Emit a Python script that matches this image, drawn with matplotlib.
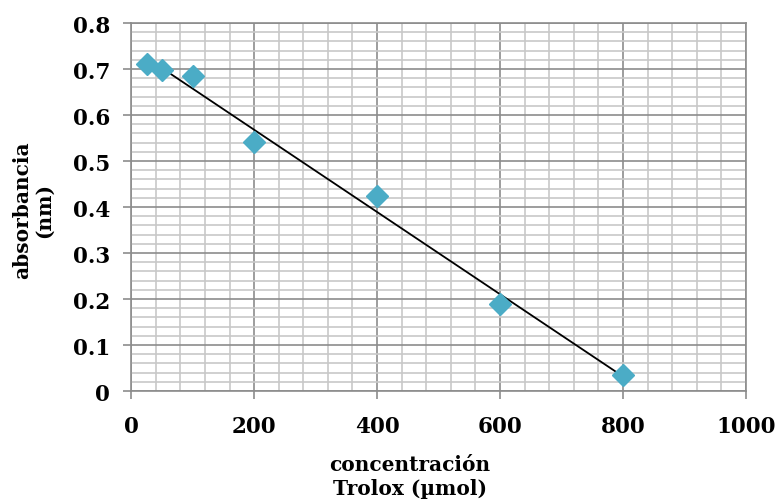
import matplotlib
matplotlib.use("Agg")
import matplotlib.pyplot as plt
import numpy as np
from matplotlib.ticker import MultipleLocator

# data
concentracion = [25, 50, 100, 200, 400, 600, 800]
absorbancia = [0.712, 0.698, 0.686, 0.541, 0.423, 0.189, 0.035]
x_ticks = [0, 200, 400, 600, 800, 1000]
y_ticks = [0, 0.1, 0.2, 0.3, 0.4, 0.5, 0.6, 0.7, 0.8]
y_tick_labels = ["0", "0.1", "0.2", "0.3", "0.4", "0.5", "0.6", "0.7", "0.8"]

plt.rcParams.update({
    "font.family": "DejaVu Serif",
    "font.weight": "bold",
})

fig = plt.figure(figsize=(7.81, 5.02), dpi=100)
ax = fig.add_axes([0.168, 0.219, 0.787, 0.733])

# linear trendline
slope, intercept = np.polyfit(concentracion, absorbancia, 1)
xs = np.array([min(concentracion), max(concentracion)])
ax.plot(xs, slope * xs + intercept, color="black", lw=1.3, zorder=3)

ax.plot(concentracion, absorbancia, linestyle="none", marker="D", ms=11,
        color="#4BACC6", zorder=4)

ax.set_xlim(0, 1000)
ax.set_ylim(0, 0.8)
ax.set_xticks(x_ticks)
ax.set_yticks(y_ticks)
ax.set_yticklabels(y_tick_labels)
ax.xaxis.set_minor_locator(MultipleLocator(40))
ax.yaxis.set_minor_locator(MultipleLocator(0.02))

ax.grid(which="major", color="#8C8C8C", lw=1.2, zorder=1)
ax.grid(which="minor", color="#C8C8C8", lw=1.2, zorder=0)
ax.set_axisbelow(True)

for s in ax.spines.values():
    s.set_color("#8C8C8C")
    s.set_linewidth(1.2)

ax.tick_params(which="major", length=6, width=1.2, color="#8C8C8C",
               labelsize=15.5)
ax.tick_params(axis="x", which="major", pad=11)
ax.tick_params(axis="y", which="major", pad=9)
ax.tick_params(which="minor", length=0)
for lbl in ax.get_xticklabels() + ax.get_yticklabels():
    lbl.set_fontweight("bold")

fig.text(410 / 781, 1 - 477 / 502, "concentración\nTrolox (µmol)",
         ha="center", va="center", fontsize=14.5, fontweight="bold",
         linespacing=1.2)
fig.text(33 / 781, 1 - 210 / 502, "absorbancia\n(nm)", rotation=90,
         ha="center", va="center", fontsize=14.5, fontweight="bold",
         linespacing=1.1)

fig.savefig("out.png", dpi=100)
